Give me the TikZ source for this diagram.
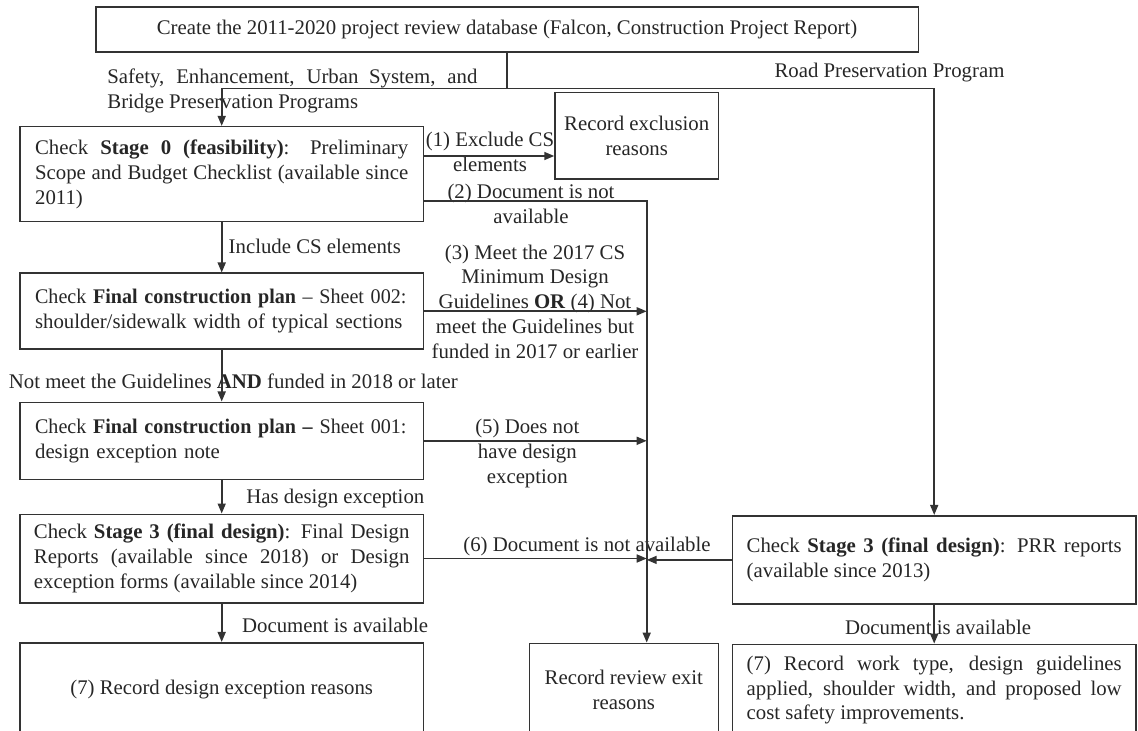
\documentclass[tikz,border=0pt]{standalone}
\usepackage{fontspec}
\usepackage{graphicx}
\setmainfont{Liberation Serif}
\usetikzlibrary{arrows.meta,calc}
\begin{document}
\begin{tikzpicture}[x=0.5pt,y=-0.5pt,
  font=\fontsize{10.4pt}{12.4pt}\selectfont,
  box/.style={draw=black!80,line width=0.8pt,inner sep=0pt,text=black!85},
  lab/.style={inner sep=0pt,text=black!85},
  ln/.style={line width=0.8pt,draw=black!80},
  arr/.style={ln,-{Triangle[length=5pt,width=4pt]}}]
\useasboundingbox (0,0) rectangle (1138,731);
\clip (0,0) rectangle (1138,731);

% boxes
\node[box, minimum width=411.3pt, minimum height=22.5pt] (top) at (507,29.8)
  {Create the 2011-2020 project review database (Falcon, Construction Project Report)};
\node[box, text width=186.6pt, align=justify, minimum width=201.65pt, minimum height=47.5pt] (s0) at (221.7,174.2)
  {Check \textbf{Stage 0 (feasibility)}: Preliminary\linebreak Scope and Budget Checklist (available since\linebreak 2011)};
\node[box, align=center, minimum width=81.65pt, minimum height=43.15pt] (excl) at (636.7,135.8)
  {Record exclusion\\reasons};
\node[box, text width=186.6pt, align=left, minimum width=201.65pt, minimum height=38pt] (p002) at (221.7,311.3)
  {\scalebox{0.965}[1]{Check \textbf{Final construction plan} -- Sheet 002:}\\shoulder/sidewalk width of typical sections};
\node[box, text width=186.6pt, align=left, minimum width=201.65pt, minimum height=38.5pt] (p001) at (221.7,440.8)
  {\scalebox{0.965}[1]{Check \textbf{Final construction plan --} Sheet 001:}\\design exception note};
\node[box, text width=187.8pt, align=justify, minimum width=201.65pt, minimum height=44.2pt] (s3) at (221.7,558.5)
  {Check \textbf{Stage 3 (final design)}: Final Design\linebreak Reports (available since 2018) or Design\linebreak exception forms (available since 2014)};
\node[box, align=center, minimum width=201.65pt, minimum height=46.65pt] (rec7) at (221.7,689.4)
  {(7) Record design exception reasons};
\node[box, align=center, minimum width=94.5pt, minimum height=46.35pt] (exit) at (623.8,689.7)
  {Record review exit\\reasons};
\node[box, text width=187.5pt, align=justify, minimum width=201.85pt, minimum height=44.15pt] (prr) at (934.2,559.9)
  {Check \textbf{Stage 3 (final design)}: PRR reports\linebreak (available since 2013)};
\node[box, text width=187.5pt, align=justify, minimum width=201.85pt, minimum height=45.85pt] (rec7r) at (934.2,690.2)
  {(7) Record work type, design guidelines\linebreak applied, shoulder width, and proposed low\linebreak cost safety improvements.};

% labels
\node[lab, text width=185pt, align=justify, anchor=west] (lsafe) at (107,91)
  {Safety, Enhancement, Urban System, and\linebreak Bridge Preservation Programs};
\node[lab] (lroad) at (889.5,72.7) {Road Preservation Program};
\node[lab, align=center] (l1) at (490,151.7) {(1) Exclude CS\\elements};
\node[lab, align=center] (l2) at (531,204.2) {(2) Document is not\\available};
\node[lab, align=center] (l34) at (535,301.5)
  {(3) Meet the 2017 CS\\Minimum Design\\Guidelines \textbf{OR} (4) Not\\meet the Guidelines but\\funded in 2017 or earlier};
\node[lab, align=center] (l5) at (527.3,453.3) {(5) Does not\\have design\\exception};
\node[lab, anchor=west] (linc) at (228.3,246) {Include CS elements};
\node[lab] (lnot) at (233.3,381.7) {Not meet the Guidelines \textbf{AND} funded in 2018 or later};
\node[lab, anchor=west] (lhas) at (246,498.3) {Has design exception};
\node[lab, anchor=west] (ldoc) at (241.7,625) {Document is available};
\node[lab] (l6) at (587,546.5) {(6) Document is not available};
\node[lab] (ldocr) at (938,627.7) {Document is available};

% connectors
\coordinate (jh) at ($(top.south)+(0,35.4)$);
\coordinate (vx) at (646.7,0);
\draw[arr] (top.south) -- (jh) -| (s0.north);
\draw[arr] (jh) -| (prr.north);
\coordinate (c1) at ($(s0.east)+(0,-18.2)$);
\draw[arr] (c1) -- (c1 -| excl.west);
\coordinate (c2) at ($(s0.east)+(0,26.8)$);
\draw[arr] (c2) -| (vx |- exit.north);
\draw[arr] (p002.east) -- (p002.east -| vx);
\draw[arr] (p001.east) -- (p001.east -| vx);
\draw[arr] (s3.east) -- (s3.east -| vx);
\draw[arr] (prr.west) -- (prr.west -| vx);
\draw[arr] (s0.south) -- (p002.north);
\draw[arr] (p002.south) -- (p001.north);
\draw[arr] (p001.south) -- (s3.north);
\draw[arr] (s3.south) -- (rec7.north);
\draw[arr] (prr.south) -- (rec7r.north);
\end{tikzpicture}
\end{document}
